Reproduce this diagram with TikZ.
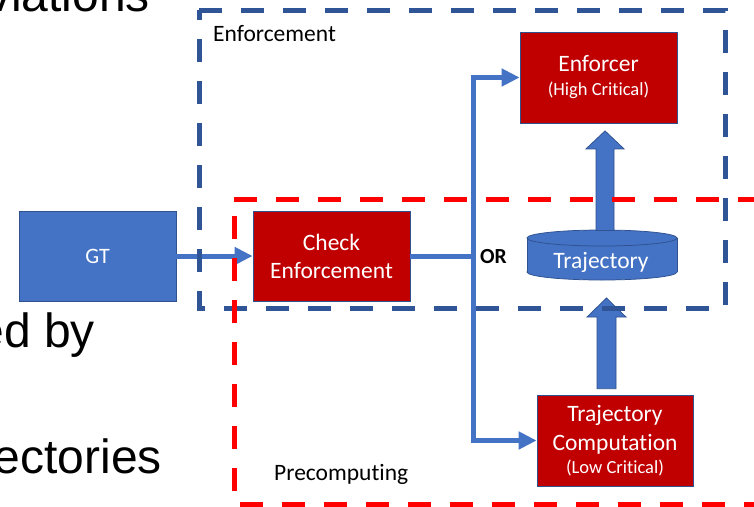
\documentclass[tikz,border=0pt]{standalone}
\usepackage{fontspec}
\setmainfont[Ligatures=NoCommon]{Carlito}
\newfontfamily\arialfont{Liberation Sans}
\usetikzlibrary{arrows.meta,calc}
\definecolor{bfill}{HTML}{4472C4}
\definecolor{bline}{HTML}{2F528F}
\definecolor{rfill}{HTML}{C00000}
\definecolor{dblue}{HTML}{2F5597}
\definecolor{dred}{HTML}{FF0000}
\newcommand{\smalltxt}{\fontsize{18.5}{22}\selectfont}
\begin{document}
\begin{tikzpicture}[x=1pt,y=-1pt,
  bigtxt/.style={font=\fontsize{23.5}{28}\selectfont},
  gtbox/.style={draw=bline,line width=0.75pt,fill=bfill,text=white,inner sep=0pt,font=\fontsize{22}{26}\selectfont},
  redbox/.style={draw=bline,line width=0.75pt,fill=rfill,text=white,inner sep=0pt,align=center,bigtxt},
  conn/.style={draw=bfill,line width=5pt},
  tipA/.style={-{Triangle[length=18pt,width=17pt]}},
  barrow/.style={fill=bfill,draw=bline,line width=0.75pt},
  cylst/.style={fill=bfill,draw=bline,line width=0.75pt},
  bluedash/.style={draw=dblue,line width=5pt,dash pattern=on 23pt off 19pt},
  reddash/.style={draw=dred,line width=5pt,dash pattern=on 23pt off 19pt},
  bgtxt/.style={font=\arialfont\fontsize{48}{56}\selectfont,text=black,inner sep=0pt},
  lbl/.style={bigtxt,text=black,inner sep=0pt}
]
\useasboundingbox (0,0) rectangle (754,506);
\clip (0,0) rectangle (754,506);
\fill[white] (0,0) rectangle (754,506);

% background slide text
\node[bgtxt,anchor=base east] (bg1) at (150,12) {viations};
\node[bgtxt,anchor=base east] (bg2) at (95,347) {ed by};
\node[bgtxt,anchor=base east] (bg3) at (162,473) {ectories};

% boxes
\node[gtbox,minimum width=157,minimum height=90] (gt) at (97.5,256) {GT};
\node[redbox,minimum width=157,minimum height=90] (check) at (331.5,256) {Check\\Enforcement};
\node[redbox,minimum width=157,minimum height=91] (enf) at (598.5,77.5) {Enforcer\\[-4pt]{\smalltxt (High Critical)}};
\node[redbox,minimum width=156,minimum height=91] (tc) at (615,440.5) {Trajectory\\[1pt]Computation\\[-5pt]{\smalltxt (Low Critical)}};

% cylinder
\node[minimum width=150,minimum height=50,inner sep=0pt,outer sep=0pt] (traj) at (602,255) {};
\draw[cylst] ($(traj.south)+(0,-8)$) ellipse [x radius=75, y radius=8];
\fill[bfill] ($(traj.north west)+(0,8)$) rectangle ($(traj.south east)+(0,-8)$);
\draw[bline,line width=0.75pt] ($(traj.north west)+(0,8)$) -- ($(traj.south west)+(0,-8)$);
\draw[bline,line width=0.75pt] ($(traj.north east)+(0,8)$) -- ($(traj.south east)+(0,-8)$);
\draw[cylst] ($(traj.north)+(0,8)$) ellipse [x radius=75, y radius=8];
\node[bigtxt,text=white,anchor=base,inner sep=0pt] (trajtxt) at (601,268) {Trajectory};

% connectors
\draw[conn,tipA] (gt.east) -- (check.west);
\coordinate (jn) at ($(check.east)+(63,0)$);
\draw[conn,tipA] (check.east) -- (jn) |- (enf.west);
\draw[conn,tipA] (jn) |- (tc.west);

% block arrows
\coordinate (ua) at ($(enf.south)+(6.5,7.5)$);
\draw[barrow] (ua) -- ++(19,18) -- ++(-10,0) -- ($(ua |- traj.north)+(9,0.5)$) -- ++(-18,0) -- ($(ua)+(-9,18)$) -- ++(-10,0) -- cycle;
\coordinate (la) at ($(traj.south)+(4.5,18)$);
\draw[barrow] (la) -- ++(19.5,19) -- ++(-10,0) -- ($(la |- tc.north)+(9.5,-6)$) -- ++(-19,0) -- ($(la)+(-9.5,19)$) -- ++(-10,0) -- cycle;

% dashed regions
\draw[bluedash] (199,10) -- (725,10) -- (725,308) -- (199,308) -- cycle;
\draw[reddash] (234,199) -- (810,199) -- (810,504) -- (234,504) -- cycle;

% labels
\node[lbl,anchor=base west] (enflbl) at (213,41) {Enforcement};
\node[lbl,anchor=base west] (prelbl) at (274,480) {Precomputing};
\node[inner sep=0pt,anchor=base west,font=\bfseries\fontsize{21.5}{26}\selectfont] (orlbl) at (480,263) {OR};
\end{tikzpicture}
\end{document}
